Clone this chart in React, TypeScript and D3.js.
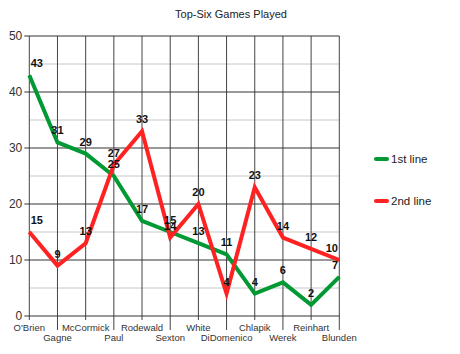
import React from "react";
import * as d3 from "d3";

const categories = ["O'Brien", "Gagne", "McCormick", "Paul", "Rodewald", "Sexton", "White", "DiDomenico", "Chlapik", "Werek", "Reinhart", "Blunden"];
const firstLine = [43, 31, 29, 25, 17, 15, 13, 11, 4, 6, 2, 7];
const secondLine = [15, 9, 13, 27, 33, 14, 20, 4, 23, 14, 12, 10];
const yTicks = [0, 10, 20, 30, 40, 50];
const yMinor = [5, 15, 25, 35, 45];
const seriesNames = ["1st line", "2nd line"];
const seriesColors = ["#009933", "#ff2222"];

export default function App() {
  const W = 460, H = 354;
  const left = 29.3, right = 339.3, top = 36, bottom = 316;
  const x = d3.scalePoint<string>().domain(categories).range([left, right]);
  const y = d3.scaleLinear().domain([0, 50]).range([bottom, top]);
  const line = d3.line<number>().x((_, i) => x(categories[i])!).y((d) => y(d));
  const series = [firstLine, secondLine];
  const font = "Liberation Sans, Arial, sans-serif";
  const clampLabel = (cx: number, w: number) => Math.max(left + w / 2 + 1, Math.min(right - w / 2 - 1, cx));

  return (
    <svg width={W} height={H} style={{ position: "absolute", left: 0, top: 0, background: "#fff" }} fontFamily={font}>
      <text x={231} y={18} textAnchor="middle" fontSize={11} fill="#222">Top-Six Games Played</text>
      {yMinor.map((t) => (
        <line key={"m" + t} x1={left} x2={right} y1={y(t)} y2={y(t)} stroke="#c8c8c8" strokeWidth={1} />
      ))}
      {categories.map((c, i) => (
        <line key={"v" + c} x1={x(c)} x2={x(c)} y1={top} y2={bottom + (i % 2 === 0 ? 4 : 14)} stroke="#444" strokeWidth={1} />
      ))}
      {yTicks.map((t) => (
        <g key={"t" + t}>
          <line x1={left - 5} x2={right} y1={y(t)} y2={y(t)} stroke="#333" strokeWidth={1} />
          <text x={left - 7} y={y(t) + 4} textAnchor="end" fontSize={12} fill="#333">{t}</text>
        </g>
      ))}
      {categories.map((c, i) => (
        <text key={"c" + c} x={x(c)} y={i % 2 === 0 ? 331 : 341} textAnchor="middle" fontSize={9.5} fill="#333">{c}</text>
      ))}
      {series.map((s, k) => (
        <path key={"p" + k} d={line(s)!} fill="none" stroke={seriesColors[k]} strokeWidth={4} strokeLinejoin="miter" />
      ))}
      {series.map((s, k) =>
        s.map((v, i) => {
          const w = String(v).length * 6.5;
          return (
            <text key={"l" + k + i} x={clampLabel(x(categories[i])!, w)} y={y(v) - 8} textAnchor="middle" fontSize={11} fontWeight="bold" fill="#111">{v}</text>
          );
        })
      )}
      {seriesNames.map((n, k) => (
        <g key={"lg" + n} transform={`translate(376,${159 + k * 42})`}>
          <line x1={0} x2={11} y1={0} y2={0} stroke={seriesColors[k]} strokeWidth={4} strokeLinecap="round" />
          <text x={15} y={4} fontSize={11.5} fill="#222">{n}</text>
        </g>
      ))}
    </svg>
  );
}
